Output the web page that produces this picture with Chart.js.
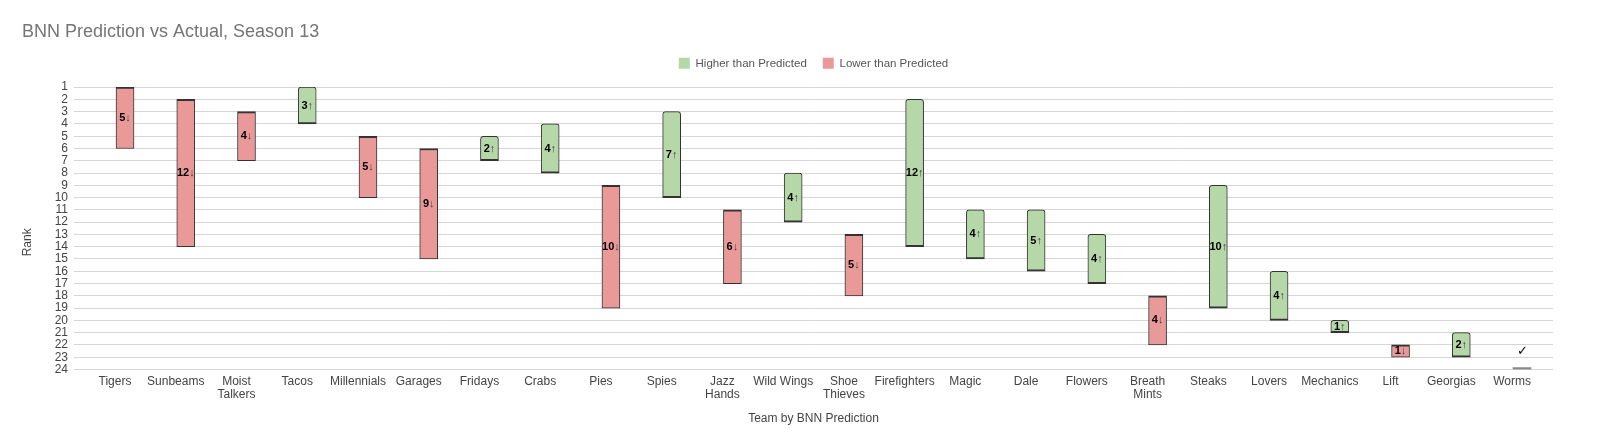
<!DOCTYPE html>
<html>
<head>
<meta charset="utf-8">
<script src="https://cdn.jsdelivr.net/npm/chart.js@4.4.0/dist/chart.umd.min.js"></script>
<style>
  html, body { margin: 0; padding: 0; background: #fff; }
  #wrap { width: 1600px; height: 447px; }
</style>
</head>
<body>
<div id="wrap"><canvas id="chart"></canvas></div>
<script>
// teams in BNN predicted order
var teams = ['Tigers', 'Sunbeams', 'Moist Talkers', 'Tacos', 'Millennials', 'Garages', 'Fridays', 'Crabs',
    'Pies', 'Spies', 'Jazz Hands', 'Wild Wings', 'Shoe Thieves', 'Firefighters', 'Magic', 'Dale',
    'Flowers', 'Breath Mints', 'Steaks', 'Lovers', 'Mechanics', 'Lift', 'Georgias', 'Worms'];
var predicted = [1, 2, 3, 4, 5, 6, 7, 8, 9, 10, 11, 12, 13, 14, 15, 16, 17, 18, 19, 20, 21, 22, 23, 24];
var actual = [6, 14, 7, 1, 10, 15, 5, 4, 19, 3, 17, 8, 18, 2, 11, 11, 13, 22, 9, 16, 20, 23, 21, 24];
var rankTicks = [1, 2, 3, 4, 5, 6, 7, 8, 9, 10, 11, 12, 13, 14, 15, 16, 17, 18, 19, 20, 21, 22, 23, 24];

var font = "'Liberation Sans', Arial, sans-serif";

function pointsWhere(test) {
    var pts = [];
    for (var i = 0; i < teams.length; i++) {
        if (test(predicted[i], actual[i])) {
            pts.push({x: i + 1, y: [predicted[i], actual[i]]});
        }
    }
    return pts;
}

function labelLines(name) {
    // two word names wrap like the original (except Wild Wings)
    var parts = name.split(' ');
    if (parts.length > 1 && name !== 'Wild Wings') return parts;
    return name;
}

// extra room under the legend, google charts style
var legendGap = {
    id: 'legendGap',
    beforeLayout: function(chart) {
        var lg = chart.legend;
        if (lg && !lg._gapPatched) {
            var fit = lg.fit;
            lg.fit = function() {
                fit.call(this);
                this.height += 8;
            };
            lg._gapPatched = true;
        }
    }
};

var rankTitle = {
    id: 'rankTitle',
    afterDraw: function(chart) {
        var ctx = chart.ctx;
        var area = chart.chartArea;
        ctx.save();
        ctx.translate(area.left - 46, (area.top + area.bottom) / 2 + 14);
        ctx.rotate(-Math.PI / 2);
        ctx.textAlign = 'center';
        ctx.textBaseline = 'middle';
        ctx.fillStyle = '#444';
        ctx.font = '12px ' + font;
        ctx.fillText('Rank', 0, 0);
        ctx.restore();
    }
};

var barLabels = {
    id: 'barLabels',
    afterDatasetsDraw: function(chart) {
        var ctx = chart.ctx;
        ctx.save();
        ctx.textBaseline = 'middle';
        chart.data.datasets.forEach(function(ds, di) {
            var meta = chart.getDatasetMeta(di);
            meta.data.forEach(function(bar, j) {
                var r = ds.data[j].y;
                var diff = r[1] - r[0];
                var cx = bar.x;
                if (diff === 0) {
                    ctx.fillStyle = '#000';
                    ctx.font = '13px ' + font;
                    ctx.textAlign = 'center';
                    ctx.fillText('\u2713', cx, bar.y - 16);
                    return;
                }
                var cy = (bar.y + bar.base) / 2;
                var num = String(Math.abs(diff));
                var arrow = diff > 0 ? '\u2193' : '\u2191';
                ctx.font = 'bold 11px ' + font;
                var w1 = ctx.measureText(num).width;
                ctx.font = '11px ' + font;
                var w2 = ctx.measureText(arrow).width;
                var x0 = cx - (w1 + w2) / 2;
                ctx.textAlign = 'left';
                ctx.font = 'bold 11px ' + font;
                ctx.fillStyle = '#000';
                ctx.fillText(num, x0, cy);
                ctx.font = '11px ' + font;
                ctx.fillStyle = '#444';
                ctx.fillText(arrow, x0 + w1, cy);
            });
        });
        ctx.restore();
    }
};

var ctx = document.getElementById('chart');
var chart = new Chart(ctx, {
    type: 'bar',
    data: {
        datasets: [{
            label: 'Higher than Predicted',
            data: pointsWhere(function(p, a) { return a < p; }),
            backgroundColor: '#b6d7a8',
            borderColor: '#333',
            borderWidth: {top: 1, right: 1, bottom: 2, left: 1},
            borderRadius: {topLeft: 3, topRight: 3},
            borderSkipped: false
        }, {
            label: 'Lower than Predicted',
            data: pointsWhere(function(p, a) { return a > p; }),
            backgroundColor: '#ea9999',
            borderColor: '#333',
            borderWidth: {top: 2, right: 1, bottom: 1, left: 1},
            borderSkipped: false
        }, {
            label: 'As Predicted',
            data: pointsWhere(function(p, a) { return a === p; }),
            backgroundColor: '#888',
            borderWidth: 0,
            minBarLength: 2
        }]
    },
    options: {
        responsive: true,
        maintainAspectRatio: false,
        animation: false,
        layout: {
            padding: {left: 22, right: 47, top: 0, bottom: 17}
        },
        datasets: {
            bar: {
                grouped: false,
                barThickness: 18
            }
        },
        scales: {
            x: {
                type: 'linear',
                offset: false,
                min: 0.16,
                max: 24.51,
                afterBuildTicks: function(axis) {
                    axis.ticks = predicted.map(function(v) { return {value: v}; });
                },
                afterFit: function(scale) {
                    scale.height = 60.5;
                },
                grid: {display: false, drawTicks: false},
                border: {display: false},
                ticks: {
                    autoSkip: false,
                    maxRotation: 0,
                    padding: 6,
                    labelOffset: -10,
                    color: '#444',
                    font: {family: font, size: 12, lineHeight: 1.05},
                    callback: function(value) {
                        return labelLines(teams[Math.round(value) - 1]);
                    }
                },
                title: {
                    display: true,
                    text: 'Team by BNN Prediction',
                    color: '#444',
                    font: {family: font, size: 12},
                    padding: {top: 12, bottom: 4}
                }
            },
            y: {
                reverse: true,
                min: 1,
                max: 24,
                afterBuildTicks: function(axis) {
                    axis.ticks = rankTicks.map(function(v) { return {value: v}; });
                },
                afterFit: function(scale) {
                    scale.width = 52;
                },
                grid: {color: '#d6d6d6', drawTicks: false},
                border: {display: false},
                ticks: {
                    autoSkip: false,
                    padding: 6,
                    color: '#444',
                    font: {family: font, size: 12}
                },
                title: {display: false}
            }
        },
        plugins: {
            title: {
                display: true,
                text: 'BNN Prediction vs Actual, Season 13',
                align: 'start',
                color: '#757575',
                font: {family: font, size: 18, weight: 'normal'},
                padding: {top: 21, bottom: -1}
            },
            legend: {
                position: 'top',
                fullSize: false,
                labels: {
                    boxWidth: 11,
                    boxHeight: 11,
                    padding: 16,
                    color: '#555',
                    font: {family: font, size: 11.5},
                    generateLabels: function(chart) {
                        return [0, 1].map(function(i) {
                            var ds = chart.data.datasets[i];
                            return {
                                text: ds.label,
                                fillStyle: ds.backgroundColor,
                                strokeStyle: ds.backgroundColor,
                                lineWidth: 0,
                                datasetIndex: i,
                                fontColor: '#555'
                            };
                        });
                    }
                }
            },
            tooltip: {enabled: false}
        }
    },
    plugins: [legendGap, rankTitle, barLabels]
});
</script>
</body>
</html>
